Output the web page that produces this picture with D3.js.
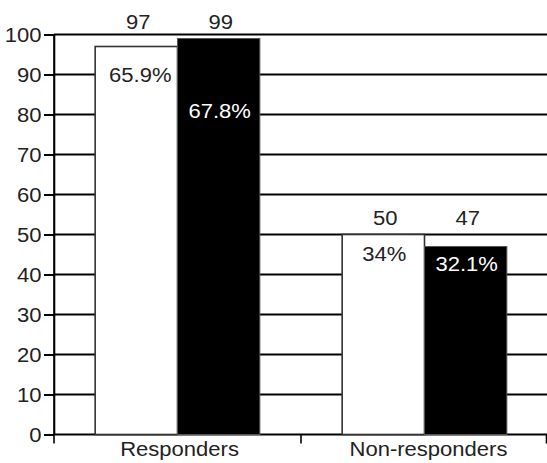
<!DOCTYPE html>
<html>
<head>
<meta charset="utf-8">
<script src="https://cdn.jsdelivr.net/npm/d3@7"></script>
<style>
  html, body { margin: 0; padding: 0; background: #fff; }
  svg { display: block; font-family: "Liberation Sans", Arial, Helvetica, sans-serif; }
</style>
</head>
<body>
<svg id="chart" width="547" height="463"></svg>
<script>
// ---- data ----
const categories = ["Responders", "Non-responders"];
const seriesNames = ["Group A", "Group B"];
const countsA = [97, 50];
const countsB = [99, 47];
const pctA = ["65.9%", "34%"];
const pctB = ["67.8%", "32.1%"];
const yTicks = [0, 10, 20, 30, 40, 50, 60, 70, 80, 90, 100];
</script>
<script>
const W = 547, H = 463;
const margin = { left: 54, right: -1, top: 34.5, bottom: 28.5 };
const svg = d3.select("#chart");
const SX = 1.13;          // horizontal stretch of lettering
const FS = 19.5;
const textColor = "#222";

const rows = categories.map((c, i) => ({
  cat: c,
  bars: [
    { s: seriesNames[0], v: countsA[i], pct: pctA[i] },
    { s: seriesNames[1], v: countsB[i], pct: pctB[i] }
  ]
}));

const y = d3.scaleLinear().domain([0, 100]).range([H - margin.bottom, margin.top]);
const x0 = d3.scaleBand().domain(categories).range([margin.left, W - margin.right]).padding(0);
const x1 = d3.scaleBand().domain(seriesNames).range([0, x0.bandwidth()]).paddingInner(0).paddingOuter(0.5);

// gridlines
svg.append("g").selectAll("line").data(yTicks).join("line")
  .attr("x1", margin.left).attr("x2", W)
  .attr("y1", d => y(d)).attr("y2", d => y(d))
  .attr("stroke", "#000").attr("stroke-width", 2);

// bars
const g = svg.append("g").selectAll("g").data(rows).join("g")
  .attr("transform", d => `translate(${x0(d.cat)},0)`);

g.selectAll("rect").data(d => d.bars).join("rect")
  .attr("x", d => x1(d.s))
  .attr("width", x1.bandwidth())
  .attr("y", d => y(d.v))
  .attr("height", d => y(0) - y(d.v))
  .attr("fill", (d, i) => i === 0 ? "#fff" : "#000")
  .attr("stroke", (d, i) => i === 0 ? "#333" : "#555")
  .attr("stroke-width", (d, i) => i === 0 ? 1.6 : 1);

// count labels above bars (same baseline per group)
g.each(function (row) {
  const grp = d3.select(this);
  const top = y(d3.max(row.bars, b => b.v));
  const base = top - 9.5;
  grp.selectAll("g.cnt").data(row.bars).join("g").attr("class", "cnt")
    .call(s => s.append("g")
      .attr("transform", d => `translate(${x1(d.s) + x1.bandwidth() / 2 + 2},${base}) scale(${SX},1)`)
      .append("text").attr("text-anchor", "middle").attr("font-size", FS).attr("fill", textColor)
      .text(d => d.v));
});

// percentage labels inside bars
const pctDepth = [[35, 79], [26, 24]]; // px below bar top, layout only
g.each(function (row, ri) {
  const grp = d3.select(this);
  grp.selectAll("g.pct").data(row.bars).join("g").attr("class", "pct")
    .call(s => s.append("g")
      .attr("transform", (d, i) => `translate(${x1(d.s) + x1.bandwidth() / 2 + (i === 0 && ri === 0 ? 4 : 1)},${y(d.v) + pctDepth[ri][i]}) scale(${SX},1)`)
      .append("text").attr("text-anchor", "middle").attr("font-size", FS)
      .attr("fill", (d, i) => i === 0 ? textColor : "#fff")
      .text(d => d.pct));
});

// y axis
const yAxis = svg.append("g").attr("transform", `translate(${margin.left},0)`)
  .call(d3.axisLeft(y).tickValues(yTicks).tickSize(10).tickPadding(3).tickSizeOuter(0));
yAxis.select(".domain").attr("stroke", "#000").attr("stroke-width", 1.6);
yAxis.selectAll(".tick line").attr("stroke", "#000").attr("stroke-width", 2);
yAxis.selectAll(".tick text")
  .attr("font-size", FS).attr("font-family", "Liberation Sans, Arial, sans-serif")
  .attr("fill", textColor)
  .attr("x", -12.5 / SX).attr("dy", "0.36em")
  .attr("transform", `scale(${SX},1)`);

// x axis
const xAxisY = y(0);
const bounds = [margin.left, ...categories.slice(1).map(c => x0(c)), W - 0.5];
svg.append("g").selectAll("line").data(bounds).join("line")
  .attr("x1", d => d).attr("x2", d => d)
  .attr("y1", xAxisY).attr("y2", xAxisY + 9)
  .attr("stroke", "#000").attr("stroke-width", 1.6);
svg.append("line").attr("x1", margin.left).attr("x2", margin.left)
  .attr("y1", y(100)).attr("y2", xAxisY).attr("stroke", "#000").attr("stroke-width", 1.6);

svg.append("g").selectAll("g").data(categories).join("g")
  .attr("transform", (d, i) => `translate(${x0(d) + x0.bandwidth() / 2 + (i === 0 ? 2 : 4)},${xAxisY + 21.5}) scale(${SX},1)`)
  .append("text").attr("text-anchor", "middle").attr("font-size", FS).attr("fill", textColor)
  .text(d => d);
</script>
</body>
</html>
